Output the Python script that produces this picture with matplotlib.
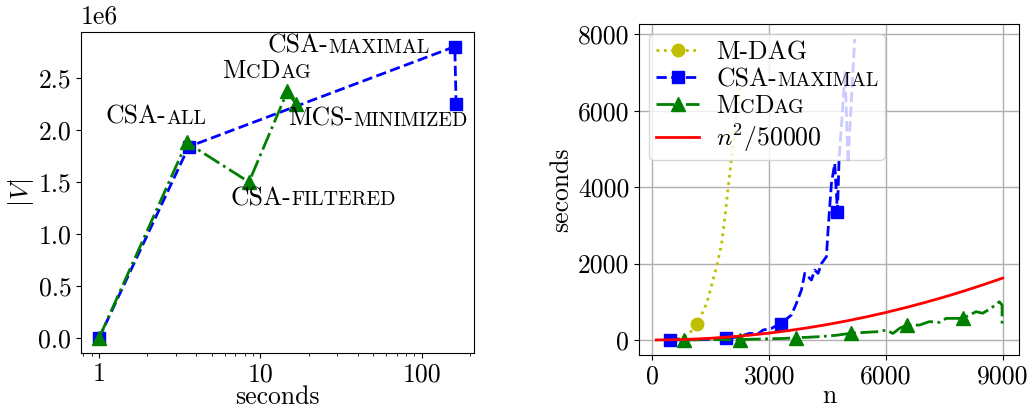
import matplotlib
matplotlib.use("Agg")
import warnings
warnings.filterwarnings("ignore")
import matplotlib.pyplot as plt
from matplotlib.offsetbox import TextArea, HPacker, AnnotationBbox
from matplotlib.ticker import FixedLocator, FixedFormatter

plt.rcParams['font.family'] = 'serif'
plt.rcParams['font.serif'] = ['cmr10', 'DejaVu Serif']
plt.rcParams['mathtext.fontset'] = 'cm'
plt.rcParams['axes.formatter.use_mathtext'] = False
plt.rcParams['axes.unicode_minus'] = False

FS = 18.5
SC = 0.78  # small-caps size ratio

# ---------------- data: left panel ----------------
csa_sec = [1, 3.6, 160, 163]
csa_v = [0, 1.84e6, 2.80e6, 2.25e6]
mcdag_sec = [1, 3.5, 8.5, 14.7, 16.6]
mcdag_v = [0, 1.88e6, 1.50e6, 2.37e6, 2.25e6]
left_yticks = [0, 0.5e6, 1.0e6, 1.5e6, 2.0e6, 2.5e6]

# annotation labels: (parts, x, y)  parts: (text, small?)
ann_labels = [
    ([("CSA-", False), ("ALL", True)], 1.105, 2.04e6),
    ([("M", False), ("C", True), ("D", False), ("AG", True)], 5.83, 2.48e6),
    ([("CSA-", False), ("MAXIMAL", True)], 11.1, 2.72e6),
    ([("MCS-", False), ("MINIMIZED", True)], 14.95, 2.02e6),
    ([("CSA-", False), ("FILTERED", True)], 6.54, 1.256e6),
]

# ---------------- data: right panel ----------------
mdag_n = [450, 800, 950, 1154, 1395, 1651, 1779, 1864, 1949, 2035, 2150, 2245]
mdag_t = [0, 60, 175, 419, 960, 1920, 2530, 3230, 4010, 4800, 5800, 6600]
mdag_marks = [1154]

csamax_n = [456, 800, 1200, 1600, 1885, 2200, 2505, 2700, 2846, 3050, 3300,
            3573, 3701, 3830, 3915, 4086, 4171, 4257, 4343, 4471, 4514, 4600,
            4685, 4754, 4796, 4950, 5026, 5197]
csamax_t = [0, 5, 10, 20, 40, 80, 175, 150, 260, 300, 430,
            655, 960, 1310, 1745, 1570, 1830, 1745, 2000, 2180, 2880, 4100,
            4620, 3360, 4710, 7000, 4630, 7880]
csamax_marks = [456, 1885, 3300, 4754]

mc_n = [813, 1200, 1600, 2000, 2249, 2600, 3000, 3400, 3685, 4000, 4295, 4700,
        5111, 5500, 5838, 6010, 6180, 6351, 6538, 6864, 7117, 7376, 7548, 7974,
        8318, 8487, 8702, 8915, 8985, 8985]
mc_t = [0, 5, 10, 5, 10, 20, 30, 40, 60, 70, 87, 120,
        175, 200, 220, 260, 170, 305, 390, 390, 480, 460, 565, 565,
        740, 700, 830, 1000, 915, 350]
mc_marks = [813, 2249, 3685, 5111, 6538, 7974]

quad_n = [100, 500, 1000, 1500, 2000, 2500, 3000, 3500, 4000, 4500, 5000,
          5500, 6000, 6500, 7000, 7500, 8000, 8500, 9000]
quad_t = [0.2, 5, 20, 45, 80, 125, 180, 245, 320, 405, 500,
          605, 720, 845, 980, 1125, 1280, 1445, 1620]

legend_labels = [
    [("M-DAG", False)],
    [("CSA-", False), ("MAXIMAL", True)],
    [("M", False), ("C", True), ("D", False), ("AG", True)],
    [("$n^2/50000$", False)],
]


def sc_box(parts, fs):
    boxes = []
    for s, small in parts:
        boxes.append(TextArea(s, textprops=dict(fontsize=fs * SC if small else fs,
                                                 va='baseline', ha='left')))
    return HPacker(children=boxes, align='baseline', pad=0, sep=0)


fig = plt.figure(figsize=(10.27, 4.08), dpi=100)
ax1 = fig.add_axes([0.0789, 0.1348, 0.3826, 0.7868])
ax2 = fig.add_axes([0.6222, 0.1299, 0.3700, 0.8113])

# ---- left
ax1.plot(csa_sec, csa_v, color='blue', ls='--', marker='s', lw=2, ms=9)
ax1.plot(mcdag_sec, mcdag_v, color='green', ls='-.', marker='^', lw=2, ms=10)
ax1.set_xscale('log')
ax1.xaxis.set_major_locator(FixedLocator([1, 10, 100]))
ax1.xaxis.set_major_formatter(FixedFormatter(["1", "10", "100"]))
ax1.set_yticks(left_yticks)
ax1.yaxis.set_major_formatter(FixedFormatter(["%.1f" % (v / 1e6) for v in left_yticks]))
ax1.text(0.0, 1.012, "1e6", transform=ax1.transAxes, fontsize=FS,
         ha='left', va='bottom')
ax1.set_xlabel("seconds", fontsize=FS, labelpad=-0.5)
ax1.set_ylabel("$|V|$", fontsize=FS, labelpad=2)
ax1.tick_params(labelsize=FS)
for parts, x, y in ann_labels:
    ab = AnnotationBbox(sc_box(parts, FS), (x, y), xycoords='data',
                        box_alignment=(0, 0.12), frameon=False, pad=0)
    ax1.add_artist(ab)

# ---- right
ax2.grid(True, color='#b0b0b0', lw=1)
ax2.set_axisbelow(True)
l1, = ax2.plot(mdag_n, mdag_t, color='y', ls=':', marker='o', lw=2, ms=9,
               markevery=[mdag_n.index(v) for v in mdag_marks])
l2, = ax2.plot(csamax_n, csamax_t, color='blue', ls='--', marker='s', lw=2, ms=9,
               markevery=[csamax_n.index(v) for v in csamax_marks])
l3, = ax2.plot(mc_n, mc_t, color='green', ls='-.', marker='^', lw=2, ms=10,
               markevery=[mc_n.index(v) for v in mc_marks])
l4, = ax2.plot(quad_n, quad_t, color='red', ls='-', lw=2)
ax2.set_xlim(-345, 9420)
ax2.set_ylim(-394, 8274)
ax2.set_xticks([0, 3000, 6000, 9000])
ax2.set_yticks([0, 2000, 4000, 6000, 8000])
ax2.tick_params(labelsize=FS)
ax2.set_xlabel("n", fontsize=FS, labelpad=-3)
ax2.set_ylabel("seconds", fontsize=FS, labelpad=3)

leg = ax2.legend([l1, l2, l3, l4], ["x", "x", "x", "x"], loc='upper left',
                 fontsize=FS, labelspacing=0.12, borderpad=0.25,
                 handlelength=1.7, handletextpad=0.65, borderaxespad=0.4)
rows = [row for col in leg._legend_handle_box.get_children()
        for row in col.get_children()]
for row, parts in zip(rows, legend_labels):
    box = sc_box(parts, FS)
    box.set_figure(fig)
    row._children[1] = box

fig.savefig("out.png", dpi=100)
